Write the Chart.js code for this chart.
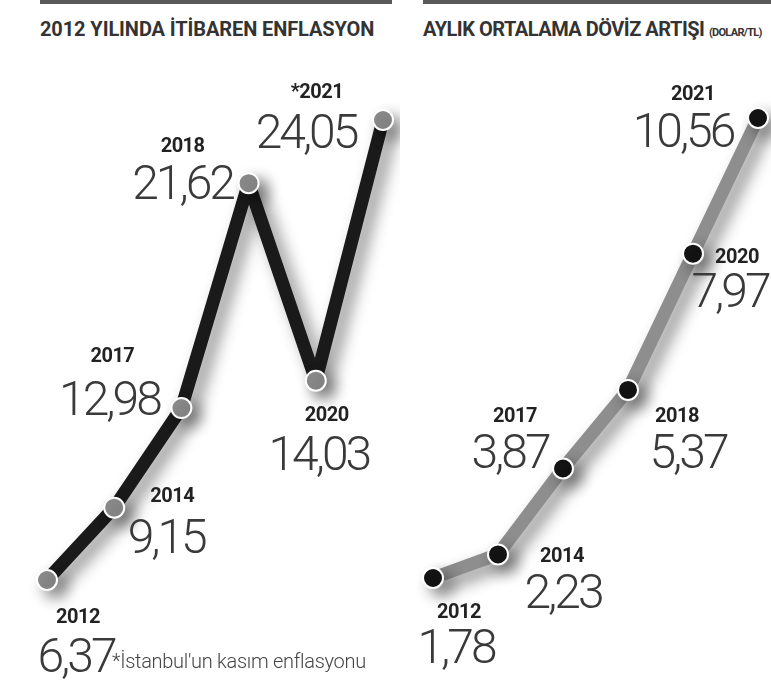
<!DOCTYPE html>
<html lang="tr">
<head>
<meta charset="utf-8">
<title>Enflasyon ve Döviz</title>
<script src="https://cdn.jsdelivr.net/npm/chart.js@4/dist/chart.umd.min.js"></script>
<style>
  html, body { margin: 0; padding: 0; background: #fff; }
  body { width: 771px; height: 690px; position: relative; overflow: hidden; font-family: Roboto, sans-serif; }
  .rule { position: absolute; top: 0; height: 4px; background: #5a5a5a; }
  .title { position: absolute; top: 17px; font-weight: 700; font-size: 20px; color: #333; letter-spacing: -0.1px; white-space: nowrap; }
  .title.r { letter-spacing: -0.5px; }
  .title small { font-size: 11px; letter-spacing: -0.7px; }
  canvas { position: absolute; top: 0; }
  .note { position: absolute; left: 112px; top: 649px; font-weight: 300; font-size: 20px; color: #444; letter-spacing: -0.3px; }
</style>
</head>
<body>
<div class="rule" style="left:40px;width:352px"></div>
<div class="rule" style="left:423px;width:348px"></div>
<div class="title" style="left:40px">2012 YILINDA İTİBAREN ENFLASYON</div>
<div class="title r" style="left:423px">AYLIK ORTALAMA DÖVİZ ARTIŞI <small>(DOLAR/TL)</small></div>
<canvas id="chartEnf" width="400" height="690" style="left:0"></canvas>
<canvas id="chartDoviz" width="371" height="690" style="left:400px"></canvas>
<div class="note">*İstanbul'un kasım enflasyonu</div>

<script>
// ── veriler ──
const enfYears = ['2012', '2014', '2017', '2018', '2020', '2021'];
const enfLabels = ['2012', '2014', '2017', '2018', '2020', '*2021'];
const enfValues = [6.37, 9.15, 12.98, 21.62, 14.03, 24.05];

const dovizYears = ['2012', '2014', '2017', '2018', '2020', '2021'];
const dovizValues = [1.78, 2.23, 3.87, 5.37, 7.97, 10.56];

// etiket yerleşimi: [yıl dx, yıl dy, değer dx, değer dy] noktaya göre
const enfLabelPos = [
  [31, 43, 29, 92], [58, -6, 52, 45], [-69, -46, -72, 7],
  [-66, -31, -66, 16], [11, 40, 3, 89], [-66, -22, -77, 28]
];
const dovizLabelPos = [
  [26, 40, 23, 85], [64, 8, 65, 54], [-48, -47, -53, -1],
  [49, 32, 60, 78], [44, 9, 37, 53], [-65, -18, -75, 29]
];

const fmt = v => v.toFixed(2).replace('.', ',');

// gölge çizgi altında
const shadowPlugin = {
  id: 'shadow',
  beforeDatasetsDraw(chart) {
    const ctx = chart.ctx;
    ctx.save();
    ctx.shadowColor = 'rgba(0,0,0,0.45)';
    ctx.shadowBlur = 16;
    ctx.shadowOffsetX = 8;
    ctx.shadowOffsetY = 7;
  },
  afterDatasetsDraw(chart) {
    chart.ctx.restore();
  }
};

const labelPlugin = {
  id: 'pointLabels',
  afterDraw(chart, args, opts) {
    const ctx = chart.ctx;
    const meta = chart.getDatasetMeta(0);
    ctx.save();
    ctx.textAlign = 'center';
    ctx.textBaseline = 'alphabetic';
    meta.data.forEach((pt, i) => {
      const p = opts.pos[i];
      ctx.fillStyle = '#222';
      ctx.font = '700 20px Roboto';
      ctx.letterSpacing = '-0.5px';
      ctx.fillText(opts.years[i], pt.x + p[0], pt.y + p[1]);
      ctx.fillStyle = '#3a3a3a';
      ctx.font = '300 48px Roboto';
      ctx.letterSpacing = '-3px';
      ctx.fillText(fmt(opts.values[i]), pt.x + p[2], pt.y + p[3]);
    });
    ctx.restore();
  }
};

function makeChart(id, labels, yearText, values, pos, lineColor, pointColor, pad) {
  return new Chart(document.getElementById(id), {
    type: 'line',
    data: {
      labels,
      datasets: [{
        data: values,
        borderColor: lineColor,
        borderWidth: 13,
        borderJoinStyle: 'round',
        pointRadius: 10,
        pointBackgroundColor: pointColor,
        pointBorderColor: '#fff',
        pointBorderWidth: 2,
        tension: 0,
        clip: false
      }]
    },
    options: {
      responsive: false,
      animation: false,
      layout: { padding: pad },
      scales: {
        x: { display: false, offset: false },
        y: { display: false, min: Math.min(...values), max: Math.max(...values) }
      },
      plugins: {
        legend: { display: false },
        tooltip: { enabled: false },
        pointLabels: { pos, years: yearText, values }
      }
    },
    plugins: [shadowPlugin, labelPlugin]
  });
}

makeChart('chartEnf', enfYears, enfLabels, enfValues, enfLabelPos, '#1a1a1a', '#8c8c8c',
  { left: 47, right: 17, top: 120, bottom: 110 });
makeChart('chartDoviz', dovizYears, dovizYears, dovizValues, dovizLabelPos, '#8e8e8e', '#141414',
  { left: 33, right: 13, top: 118, bottom: 112 });
</script>
</body>
</html>
